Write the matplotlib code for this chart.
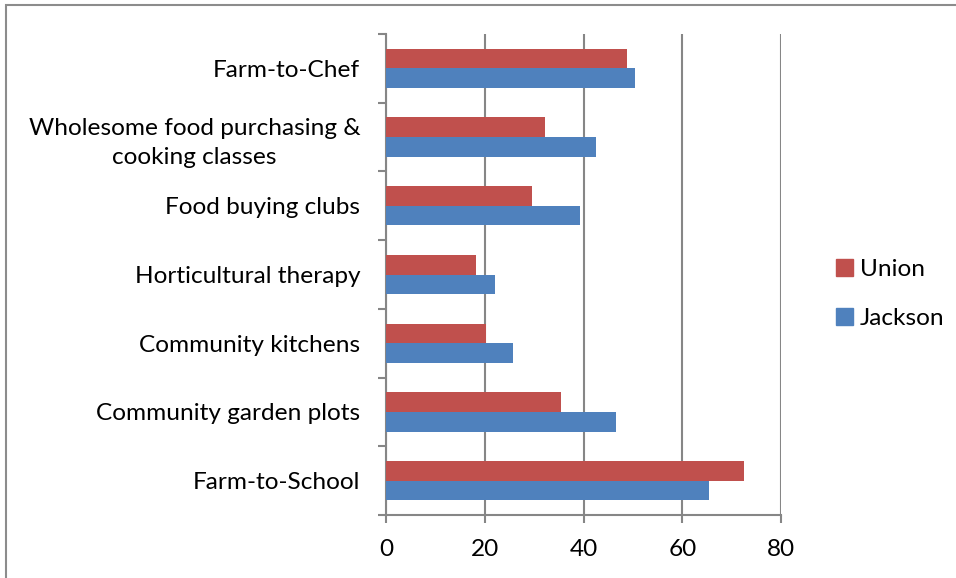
import matplotlib
matplotlib.use("Agg")
import matplotlib.pyplot as plt
from matplotlib.patches import Rectangle, Patch
import numpy as np

plt.rcParams['font.family'] = ['Lato', 'DejaVu Sans']

categories = ["Farm-to-School", "Community garden plots", "Community kitchens",
              "Horticultural therapy", "Food buying clubs",
              "Wholesome food purchasing &\ncooking classes", "Farm-to-Chef"]
union = [72.6, 35.5, 20.3, 18.3, 29.6, 32.3, 48.9]
jackson = [65.4, 46.5, 25.8, 22.0, 39.2, 42.5, 50.4]
x_ticks = [0, 20, 40, 60, 80]

UNION_COLOR = "#C0504D"
JACKSON_COLOR = "#4F81BD"
AXIS_GRAY = "#868686"
FS = 17.6

W, H = 956, 578
fig = plt.figure(figsize=(W / 100, H / 100), dpi=100)

# chart frame (runs off the right and bottom edges)
fig.patches.append(Rectangle((6 / W, -0.1), 1.2, (H - 5) / H + 0.1,
                             transform=fig.transFigure, fill=False,
                             edgecolor="#8C8C8C", linewidth=1.5))

left, right = 386 / W, 781 / W
top, bottom = 1 - 34 / H, 1 - 515 / H
ax = fig.add_axes([left, bottom, right - left, top - bottom])

y = np.arange(len(categories))
h = 0.285
ax.barh(y + h / 2, union, height=h, color=UNION_COLOR, label="Union", zorder=3)
ax.barh(y - h / 2, jackson, height=h, color=JACKSON_COLOR, label="Jackson", zorder=3)

ax.set_xlim(0, 80)
ax.set_ylim(-0.5, len(categories) - 0.5)
ax.set_xticks(x_ticks)
ax.set_xticklabels([str(v) for v in x_ticks], fontsize=FS)
ax.xaxis.grid(True, color=AXIS_GRAY, linewidth=1.5, zorder=0)

# category labels centred on groups, tick marks on group boundaries
ax.set_yticks(y)
ax.set_yticklabels(categories, fontsize=FS, ha="right", multialignment="center",
                   linespacing=1.45)
ax.tick_params(axis="y", length=0, pad=18.5)
ax.set_yticks(np.arange(-0.5, len(categories), 1.0), minor=True)
ax.tick_params(axis="y", which="minor", length=6, width=1.5, color=AXIS_GRAY)
ax.tick_params(axis="x", length=6, width=1.5, color=AXIS_GRAY, pad=11)

for s in ["top", "right"]:
    ax.spines[s].set_visible(False)
for s in ["left", "bottom"]:
    ax.spines[s].set_color(AXIS_GRAY)
    ax.spines[s].set_linewidth(1.5)

handles = [Patch(color=UNION_COLOR, label="Union"),
           Patch(color=JACKSON_COLOR, label="Jackson")]
fig.legend(handles=handles, loc="center left", bbox_to_anchor=(836 / W, 1 - 294 / H),
           frameon=False, fontsize=FS, handlelength=0.68, handleheight=0.68,
           handletextpad=0.3, labelspacing=1.15, borderpad=0, borderaxespad=0)

fig.savefig("out.png", dpi=100)
